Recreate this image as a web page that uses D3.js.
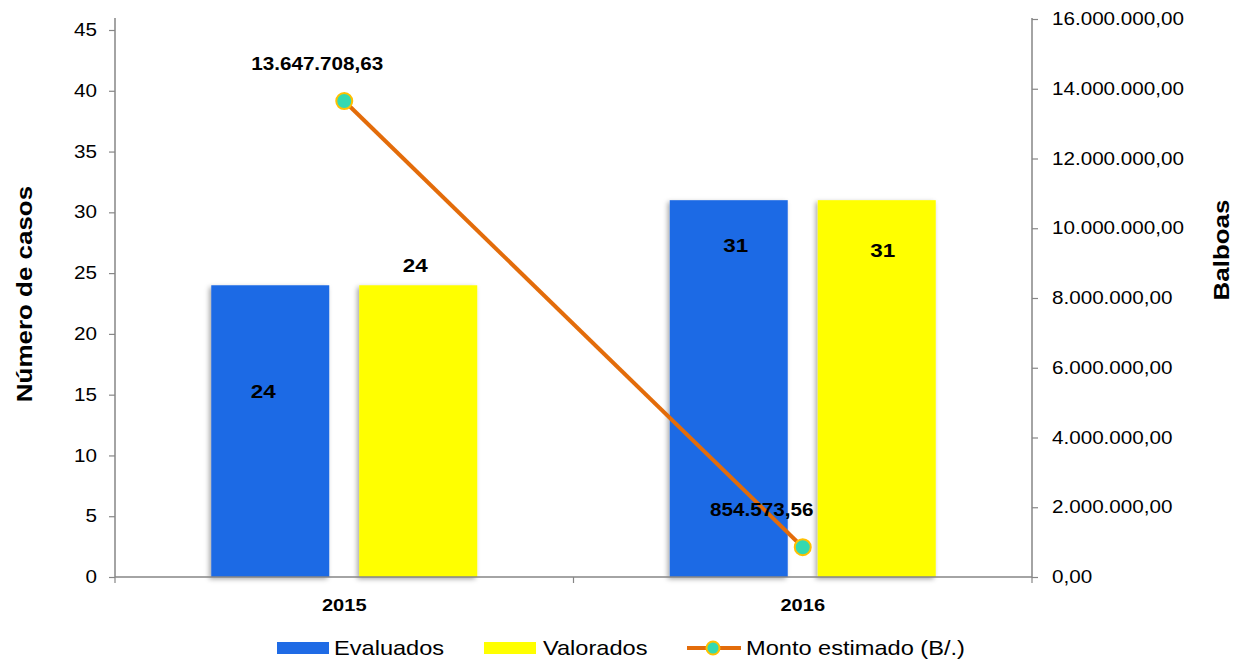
<!DOCTYPE html>
<html>
<head>
<meta charset="utf-8">
<script src="https://cdn.jsdelivr.net/npm/d3@7"></script>
<style>
  body { margin: 0; background: #fff; }
  svg text { font-family: "Liberation Sans", Arial, sans-serif; }
</style>
</head>
<body>
<svg id="chart"></svg>
<script>
// Chart data
const years = ["2015", "2016"];
const evaluados = [24, 31];
const valorados = [24, 31];
const monto = [13647708.63, 854573.56];
const leftTicks = [0, 5, 10, 15, 20, 25, 30, 35, 40, 45];
const rightTicks = [0, 2000000, 4000000, 6000000, 8000000, 10000000, 12000000, 14000000, 16000000];

const width = 1236;
const height = 665;
const stretchK = 1.18; // the original text is a bit wide

const svg = d3.select("#chart")
  .attr("width", width)
  .attr("height", height);

// widen text horizontally around its anchor point
function stretch(sel) {
  sel.each(function() {
    const t = d3.select(this);
    const x0 = +t.attr("x") || 0;
    t.attr("transform", `translate(${x0},0) scale(${stretchK},1) translate(${-x0},0)`);
  });
}

// drop shadow for bars
const defs = svg.append("defs");
defs.append("filter")
  .attr("id", "shadow")
  .attr("x", "-20%").attr("y", "-10%")
  .attr("width", "140%").attr("height", "120%")
  .append("feDropShadow")
  .attr("dx", -2).attr("dy", 2)
  .attr("stdDeviation", 2.5)
  .attr("flood-color", "#000")
  .attr("flood-opacity", 0.35);

const plotLeft = 115, plotRight = 1032, plotTop = 18, plotBottom = 577;

const x = d3.scaleBand().domain(years).range([plotLeft, plotRight]);
const yLeft = d3.scaleLinear().domain([0, 45]).range([plotBottom, 30]);
const yRight = d3.scaleLinear().domain([0, 16000000]).range([plotBottom, 19]);

const axisColor = "#868686";
const fmt = d3.formatLocale({ decimal: ",", thousands: ".", grouping: [3], currency: ["", ""] }).format(",.2f");

// bars
const barW = 118, gap = 30;
const series = [
  { name: "Evaluados", values: evaluados, color: "#1F6BE5", offset: -(gap / 2 + barW) },
  { name: "Valorados", values: valorados, color: "#FFFF00", offset: gap / 2 }
];

series.forEach(function(s) {
  svg.append("g").selectAll("rect")
    .data(s.values)
    .enter()
    .append("rect")
    .attr("x", (d, i) => x(years[i]) + x.bandwidth() / 2 + s.offset)
    .attr("y", d => yLeft(d))
    .attr("width", barW)
    .attr("height", d => plotBottom - yLeft(d))
    .attr("fill", s.color)
    .attr("filter", "url(#shadow)");
});

// axes
const gLeft = svg.append("g").attr("transform", `translate(${plotLeft},0)`)
  .call(d3.axisLeft(yLeft).tickValues(leftTicks).tickSize(6).tickSizeOuter(0).tickPadding(12));
const gRight = svg.append("g").attr("transform", `translate(${plotRight},0)`)
  .call(d3.axisRight(yRight).tickValues(rightTicks).tickFormat(fmt).tickSize(6).tickSizeOuter(0).tickPadding(14));
[gLeft, gRight].forEach(function(g) {
  g.select(".domain").attr("stroke", axisColor).attr("stroke-width", 1.5)
    .attr("d", `M0,${plotTop}V${plotBottom}`);
  g.selectAll(".tick line").attr("stroke", axisColor).attr("stroke-width", 1.2);
  g.selectAll(".tick text").attr("font-size", 17.5).attr("fill", "#000")
    .style("font-family", "'Liberation Sans', Arial, sans-serif")
    .call(stretch);
});

// bottom axis
svg.append("line")
  .attr("x1", plotLeft).attr("x2", plotRight)
  .attr("y1", plotBottom).attr("y2", plotBottom)
  .attr("stroke", axisColor).attr("stroke-width", 1.5);
const xTicks = [plotLeft, x("2016"), plotRight];
svg.selectAll(".xtick")
  .data(xTicks)
  .enter()
  .append("line")
  .attr("x1", d => d).attr("x2", d => d)
  .attr("y1", plotBottom).attr("y2", plotBottom + 6)
  .attr("stroke", axisColor).attr("stroke-width", 1.2);
svg.selectAll(".xlabel")
  .data(years)
  .enter()
  .append("text")
  .attr("x", d => x(d) + x.bandwidth() / 2)
  .attr("y", 611)
  .attr("text-anchor", "middle")
  .attr("font-size", 17)
  .attr("font-weight", "bold")
  .text(d => d)
  .call(stretch);

// axis titles
svg.append("text")
  .attr("transform", `translate(32,294) rotate(-90) scale(${stretchK},1)`)
  .attr("text-anchor", "middle")
  .attr("font-size", 22)
  .attr("font-weight", "bold")
  .text("Número de casos");
svg.append("text")
  .attr("transform", `translate(1229,250) rotate(-90) scale(${stretchK},1)`)
  .attr("text-anchor", "middle")
  .attr("font-size", 22)
  .attr("font-weight", "bold")
  .text("Balboas");

// line
const cx = d => x(d) + x.bandwidth() / 2;
const line = d3.line()
  .x((d, i) => cx(years[i]))
  .y(d => yRight(d));
svg.append("path")
  .datum(monto)
  .attr("d", line)
  .attr("fill", "none")
  .attr("stroke", "#E36C0A")
  .attr("stroke-width", 4);
svg.selectAll(".marker")
  .data(monto)
  .enter()
  .append("circle")
  .attr("cx", (d, i) => cx(years[i]))
  .attr("cy", d => yRight(d))
  .attr("r", 8)
  .attr("fill", "#33D9B0")
  .attr("stroke", "#FFC000")
  .attr("stroke-width", 2);

// data labels
const lbl = svg.append("g")
  .attr("font-size", 19)
  .attr("font-weight", "bold")
  .attr("text-anchor", "middle");
// bar labels: 2015 blue inside, 2015 yellow above, 2016 both inside top
const barLabelPos = [
  [{ dx: -(gap / 2 + barW / 2) - 7, dy: 113 }, { dx: -(gap / 2 + barW / 2) + 7, dy: 52 }],
  [{ dx: gap / 2 + barW / 2 - 3, dy: -13 }, { dx: gap / 2 + barW / 2 + 6, dy: 57 }]
];
series.forEach(function(s, si) {
  s.values.forEach(function(v, i) {
    const p = barLabelPos[si][i];
    lbl.append("text")
      .attr("x", cx(years[i]) + p.dx)
      .attr("y", yLeft(v) + p.dy)
      .text(v);
  });
});
const montoLabelPos = [{ dx: -27, dy: -31 }, { dx: -41, dy: -31 }];
monto.forEach(function(v, i) {
  lbl.append("text")
    .attr("x", cx(years[i]) + montoLabelPos[i].dx)
    .attr("y", yRight(v) + montoLabelPos[i].dy)
    .attr("font-size", 17.5)
    .text(fmt(v));
});
lbl.selectAll("text").call(stretch);

// legend
const legend = svg.append("g").attr("font-size", 20);
legend.append("rect").attr("x", 277).attr("y", 642).attr("width", 52).attr("height", 12).attr("fill", "#1F6BE5");
legend.append("text").attr("x", 334).attr("y", 655).text("Evaluados");
legend.append("rect").attr("x", 484).attr("y", 642).attr("width", 52).attr("height", 12).attr("fill", "#FFFF00");
legend.append("text").attr("x", 543).attr("y", 655).text("Valorados");
legend.append("line").attr("x1", 687).attr("x2", 741).attr("y1", 648).attr("y2", 648)
  .attr("stroke", "#E36C0A").attr("stroke-width", 4);
legend.append("circle").attr("cx", 713).attr("cy", 648).attr("r", 6.5)
  .attr("fill", "#33D9B0").attr("stroke", "#FFC000").attr("stroke-width", 2);
legend.append("text").attr("x", 746).attr("y", 655).text("Monto estimado (B/.)");
legend.selectAll("text").call(stretch);
</script>
</body>
</html>
